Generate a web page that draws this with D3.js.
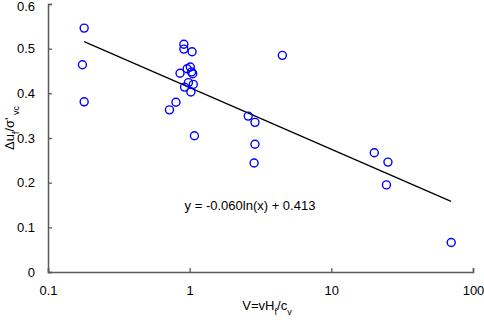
<!DOCTYPE html>
<html>
<head>
<meta charset="utf-8">
<script src="https://cdn.jsdelivr.net/npm/d3@7"></script>
<style>
  body { margin: 0; background: #fff; }
  text { font-family: "Liberation Sans", Arial, sans-serif; fill: #000; }
</style>
</head>
<body>
<div id="chart"></div>
<script>
/* Scatter with log trend line */

const width = 484,
    height = 320,
    margin = ({ top: 4, right: 11, bottom: 48, left: 48 });

// data
const vValues = [0.18, 0.175, 0.18, 0.91, 0.91, 1.04, 4.51, 1.01, 0.96, 0.855, 1.05, 1.03,
                 0.98, 1.06, 0.92, 1.02, 0.80, 0.72, 2.59, 2.89, 2.89, 2.85, 1.08, 20.1, 25.1, 24.5, 70.2];
const duValues = [0.546, 0.464, 0.381, 0.510, 0.499, 0.493, 0.485, 0.459, 0.455, 0.445, 0.444, 0.448,
                  0.424, 0.420, 0.414, 0.403, 0.380, 0.363, 0.349, 0.335, 0.286, 0.244, 0.305, 0.267, 0.246, 0.195, 0.066];
const xTicks = [0.1, 1, 10, 100];
const yTicks = [0, 0.1, 0.2, 0.3, 0.4, 0.5, 0.6];
const trendRange = [0.18, 70];
const trendA = -0.060, trendB = 0.413;    // y = a ln(x) + b

const data = vValues.map((v, i) => ({ v: v, du: duValues[i] }));

const svg = d3.select("#chart")
    .append("svg")
    .attr("width", width)
    .attr("height", height);

let x = d3.scaleLog()
    .domain([0.1, 100])
    .range([margin.left, width - margin.right]);

let y = d3.scaleLinear()
    .domain([0, 0.6])
    .range([height - margin.bottom, margin.top]);

// x axis, ticks point up into the plot
let xAxis = svg.append("g")
    .attr("transform", `translate(0,${height - margin.bottom})`)
    .call(d3.axisBottom(x).tickValues(xTicks).tickSize(-4).tickFormat(d => d3.format("~g")(d)));
xAxis.selectAll("text").attr("dy", "0").attr("y", 23).style("font-size", "13px");

// y axis, ticks point right
let yAxis = svg.append("g")
    .attr("transform", `translate(${margin.left},0)`)
    .call(d3.axisLeft(y).tickValues(yTicks).tickSize(-4).tickFormat(d => d3.format("~g")(d)));
yAxis.selectAll("text").attr("x", -13).style("font-size", "13px");
yAxis.selectAll("text").filter(d => d === 0.6).attr("dy", "0.5em");   // keep top label inside

svg.selectAll(".domain").attr("stroke", "#595959").attr("stroke-width", 1.5);
svg.selectAll(".tick line").attr("stroke", "#595959").attr("stroke-width", 1.3);

// trend line
let line = d3.line()
    .x(d => x(d))
    .y(d => y(trendA * Math.log(d) + trendB));

svg.append("path")
    .datum(trendRange)
    .attr("d", line)
    .attr("fill", "none")
    .attr("stroke", "#000")
    .attr("stroke-width", 1.3);

svg.selectAll(".dot")
    .data(data)
    .enter().append("circle")
      .attr("class", "dot")
      .attr("cx", d => x(d.v))
      .attr("cy", d => y(d.du))
      .attr("r", 4)
      .attr("fill", "none")
      .attr("stroke", "#0000ff")
      .attr("stroke-width", 1.4);

// equation
svg.append("text")
    .attr("x", 250)
    .attr("y", 210)
    .attr("text-anchor", "middle")
    .style("font-size", "13px")
    .text("y = -0.060ln(x) + 0.413");

// x label
let xl = svg.append("text")
    .attr("x", 267)
    .attr("y", 310)
    .attr("text-anchor", "middle")
    .style("font-size", "13px");
xl.append("tspan").text("V=vH");
xl.append("tspan").attr("baseline-shift", "sub").style("font-size", "9px").text("f");
xl.append("tspan").text("/c");
xl.append("tspan").attr("baseline-shift", "sub").style("font-size", "9px").text("v");

// y label
let yl = svg.append("text")
    .attr("transform", "translate(14,128) rotate(-90)")
    .attr("text-anchor", "middle")
    .style("font-size", "13px");
yl.append("tspan").text("Δu");
yl.append("tspan").attr("baseline-shift", "sub").style("font-size", "9px").text("f");
yl.append("tspan").text("/σ'");
yl.append("tspan").attr("baseline-shift", "sub").style("font-size", "9px").text(" vc");
</script>
</body>
</html>
